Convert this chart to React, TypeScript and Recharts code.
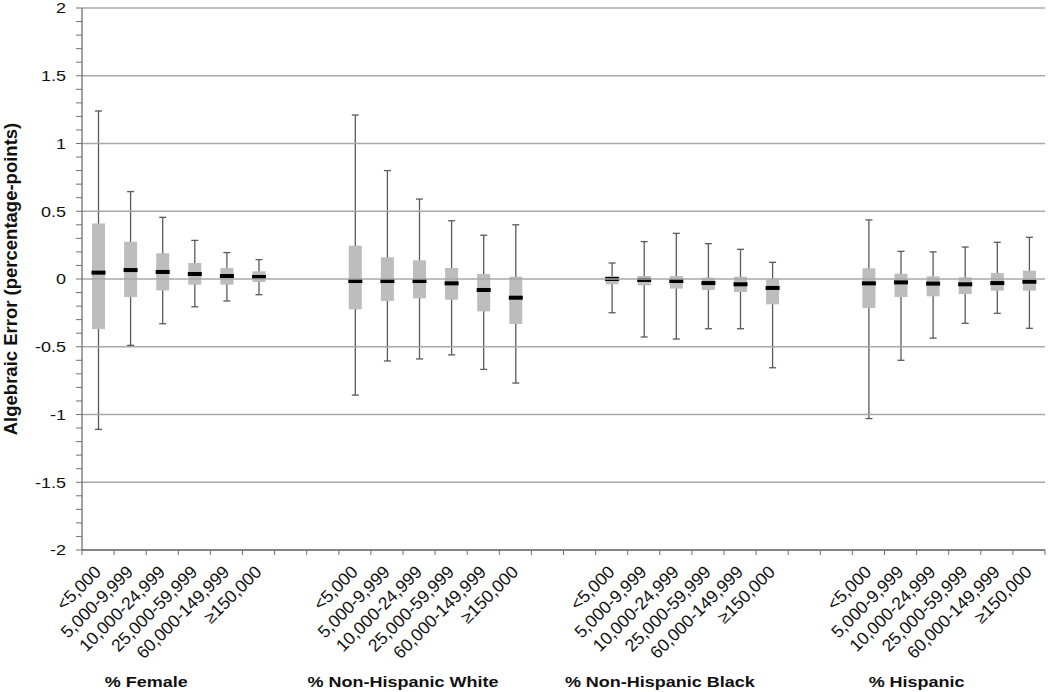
import { ComposedChart, Bar, XAxis, YAxis, ReferenceLine } from "recharts";

// size classes shown under every group
const sizeClasses = [
  "<5,000",
  "5,000-9,999",
  "10,000-24,999",
  "25,000-59,999",
  "60,000-149,999",
  "≥150,000",
];

const groupNames = [
  "% Female",
  "% Non-Hispanic White",
  "% Non-Hispanic Black",
  "% Hispanic",
];

// [min, q1, median, q3, max] per size class
const femaleStats = [
  [-1.11, -0.37, 0.047, 0.41, 1.24],
  [-0.49, -0.133, 0.066, 0.275, 0.645],
  [-0.33, -0.084, 0.052, 0.19, 0.455],
  [-0.205, -0.042, 0.037, 0.118, 0.285],
  [-0.162, -0.042, 0.022, 0.081, 0.195],
  [-0.116, -0.022, 0.015, 0.057, 0.143],
];
const whiteStats = [
  [-0.857, -0.224, -0.015, 0.246, 1.21],
  [-0.605, -0.162, -0.015, 0.16, 0.8],
  [-0.59, -0.143, -0.015, 0.138, 0.59],
  [-0.56, -0.153, -0.032, 0.081, 0.43],
  [-0.667, -0.239, -0.081, 0.037, 0.323],
  [-0.768, -0.332, -0.138, 0.017, 0.4],
];
const blackStats = [
  [-0.249, -0.039, 0.0, 0.022, 0.118],
  [-0.428, -0.047, -0.007, 0.022, 0.276],
  [-0.443, -0.071, -0.015, 0.022, 0.337],
  [-0.367, -0.081, -0.03, 0.01, 0.261],
  [-0.367, -0.096, -0.039, 0.017, 0.219],
  [-0.655, -0.187, -0.066, -0.002, 0.123],
];
const hispanicStats = [
  [-1.03, -0.214, -0.032, 0.079, 0.436],
  [-0.6, -0.133, -0.025, 0.039, 0.204],
  [-0.436, -0.128, -0.034, 0.02, 0.2],
  [-0.327, -0.111, -0.039, 0.012, 0.236],
  [-0.253, -0.086, -0.03, 0.044, 0.271],
  [-0.364, -0.086, -0.02, 0.061, 0.308],
];

const majorTicks = [-2, -1.5, -1, -0.5, 0, 0.5, 1, 1.5, 2];
const minorTicks = [
  -2, -1.9, -1.8, -1.7, -1.6, -1.5, -1.4, -1.3, -1.2, -1.1, -1, -0.9, -0.8,
  -0.7, -0.6, -0.5, -0.4, -0.3, -0.2, -0.1, 0, 0.1, 0.2, 0.3, 0.4, 0.5, 0.6,
  0.7, 0.8, 0.9, 1, 1.1, 1.2, 1.3, 1.4, 1.5, 1.6, 1.7, 1.8, 1.9, 2,
];

const allStats = [femaleStats, whiteStats, blackStats, hispanicStats];

type Row = {
  id: string;
  label: string;
  group?: string;
  range: [number, number] | null;
  stats: number[] | null;
};

// 6 boxes per group, two empty slots between groups
const rows: Row[] = [];
allStats.forEach((stats, g) => {
  if (g > 0) {
    rows.push({ id: `gap${g}a`, label: "", range: null, stats: null });
    rows.push({ id: `gap${g}b`, label: "", range: null, stats: null });
  }
  stats.forEach((s, i) => {
    rows.push({
      id: `g${g}-${i}`,
      label: sizeClasses[i],
      group: i === 1 ? groupNames[g] : undefined,
      range: [s[0], s[4]],
      stats: s,
    });
  });
});

const W = 1050;
const H = 692;
const MARGIN = { top: 8, right: 5, bottom: 0, left: 0 };
const Y_W = 82;
const X_H = 142;
const BAND = (W - MARGIN.left - MARGIN.right - Y_W) / rows.length;

const AXIS = "#707070";
const GRID = "#a8a8a8";
const FONT = "Arial, 'Liberation Sans', sans-serif";
const STRETCH = 1.2; // source text is a bit wider than tall

function BoxShape(props: any) {
  const { x, y, width, height, payload } = props;
  if (!payload || !payload.stats) return null;
  const [min, q1, med, q3, max] = payload.stats;
  const toPx = (v: number) => y + ((max - v) / (max - min)) * height;
  const cx = x + width / 2;
  const cap = 7;
  return (
    <g>
      <line x1={cx} x2={cx} y1={toPx(max)} y2={toPx(min)} stroke="#5a5a5a" strokeWidth={1.3} />
      <line x1={cx - cap / 2} x2={cx + cap / 2} y1={toPx(max)} y2={toPx(max)} stroke="#5a5a5a" strokeWidth={1.3} />
      <line x1={cx - cap / 2} x2={cx + cap / 2} y1={toPx(min)} y2={toPx(min)} stroke="#5a5a5a" strokeWidth={1.3} />
      <rect x={x} y={toPx(q3)} width={width} height={toPx(q1) - toPx(q3)} fill="#bdbdbd" />
      <rect x={x - 0.5} y={toPx(med) - 2} width={width + 1} height={4} fill="#000" />
    </g>
  );
}

function XTick(props: any) {
  const { x, y, index } = props;
  const row = rows[index];
  if (!row) return null;
  const left = x - BAND / 2;
  const lx = x + 4;
  const ly = y + 23;
  return (
    <g>
      <line x1={left} x2={left} y1={y} y2={y + 5} stroke={AXIS} />
      {index === rows.length - 1 && (
        <line x1={x + BAND / 2} x2={x + BAND / 2} y1={y} y2={y + 5} stroke={AXIS} />
      )}
      {row.label && (
        <text
          x={lx}
          y={ly}
          textAnchor="end"
          transform={`rotate(-45, ${lx}, ${ly})`}
          fontSize={17.5}
          fontFamily={FONT}
          fill="#111"
        >
          {row.label}
        </text>
      )}
      {row.group && (
        <text
          x={0}
          y={0}
          textAnchor="middle"
          transform={`translate(${x + BAND / 2}, ${y + 137}) scale(${STRETCH}, 1)`}
          fontSize={15}
          fontWeight="bold"
          fontFamily={FONT}
          fill="#111"
        >
          {row.group}
        </text>
      )}
    </g>
  );
}

function YTick(props: any) {
  const { x, y, payload } = props;
  const v = payload.value;
  if (!majorTicks.some((m) => Math.abs(m - v) < 1e-6)) return null;
  return (
    <text
      x={0}
      y={0}
      dy="0.36em"
      textAnchor="end"
      transform={`translate(${x}, ${y}) scale(${STRETCH}, 1)`}
      fontSize={15}
      fontFamily={FONT}
      fill="#111"
    >
      {String(Math.round(v * 10) / 10)}
    </text>
  );
}

function YLabel(props: any) {
  const vb = props.viewBox;
  const cy = vb.y + vb.height / 2;
  return (
    <text
      x={17}
      y={cy}
      textAnchor="middle"
      transform={`rotate(-90, 17, ${cy})`}
      fontSize={18.5}
      fontWeight="bold"
      fontFamily={FONT}
      fill="#111"
    >
      Algebraic Error (percentage-points)
    </text>
  );
}

export default function App() {
  return (
    <div style={{ position: "absolute", left: 0, top: 0, background: "#fff" }}>
      <ComposedChart width={W} height={H} data={rows} margin={MARGIN}>
        {majorTicks.map((t) => (
          <ReferenceLine key={t} y={t} stroke={GRID} strokeWidth={1.3} />
        ))}
        <XAxis
          dataKey="id"
          interval={0}
          height={X_H}
          tickLine={false}
          tickSize={0}
          tickMargin={0}
          axisLine={{ stroke: AXIS, strokeWidth: 1.3 }}
          tick={<XTick />}
        />
        <YAxis
          type="number"
          domain={[-2, 2]}
          ticks={minorTicks}
          interval={0}
          width={Y_W}
          tickSize={6}
          tickMargin={10}
          tickLine={{ stroke: AXIS }}
          axisLine={{ stroke: AXIS, strokeWidth: 1.3 }}
          tick={<YTick />}
          allowDataOverflow
          label={<YLabel />}
        />
        <Bar dataKey="range" barSize={13} shape={<BoxShape />} isAnimationActive={false} />
      </ComposedChart>
    </div>
  );
}
